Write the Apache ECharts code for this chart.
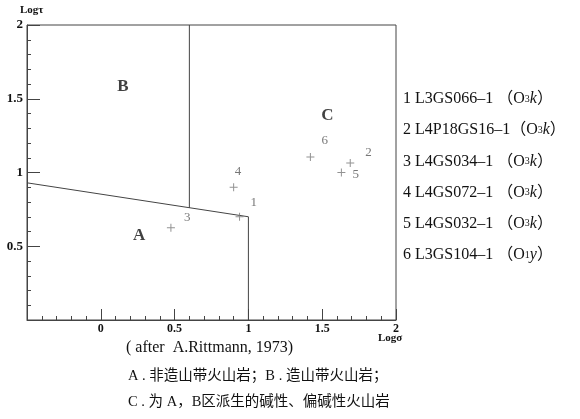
<!DOCTYPE html>
<html>
<head>
<meta charset="utf-8">
<script src="https://cdn.jsdelivr.net/npm/echarts@6/dist/echarts.min.js"></script>
<style>
  html, body { margin: 0; padding: 0; background: #fff; }
  #chart { width: 580px; height: 419px; }
</style>
</head>
<body>
<div id="chart"></div>
<script>
  // 样品点 (Logσ, Logτ)
  const sampleNo = ['1', '2', '3', '4', '5', '6'];
  const logSigma = [0.94, 1.69, 0.475, 0.90, 1.63, 1.42];
  const logTau = [0.70, 1.065, 0.625, 0.90, 1.0, 1.105];
  const sampleName = ['L3GS066–1', 'L4P18GS16–1', 'L4GS034–1', 'L4GS072–1', 'L4GS032–1', 'L3GS104–1'];
  const sampleAge = ['O3k', 'O3k', 'O3k', 'O3k', 'O3k', 'O1y'];

  // 分区界线
  const lineAB = [[-0.5, 0.93], [1, 0.70]];
  const lineBC = [[0.6, 0.76], [0.6, 2]];
  const lineAC = [[1, 0.70], [1, 0]];

  // 区号
  const zoneName = ['A', 'B', 'C'];
  const zoneX = [0.26, 0.15, 1.535];
  const zoneY = [0.575, 1.585, 1.385];

  const xTicks = ['', '0', '0.5', '1', '1.5', '2'];
  const yTicks = ['', '0.5', '1', '1.5', '2'];

  // 点号标注位置
  const labelPos = [[2, -14], [6, -10], [4, -10], [-8, -16], [2, 2], [2, -16]];

  const serif = '"Liberation Serif", "Noto Sans CJK SC", serif';
  const chart = echarts.init(document.getElementById('chart'));

  const lineStyle = { color: '#444', width: 1 };
  function boundary(d) {
    return {
      type: 'line', data: d, symbol: 'none', silent: true,
      lineStyle: lineStyle, z: 3
    };
  }

  const plus = 'path://M3.5,0H4.5V3.5H8V4.5H4.5V8H3.5V4.5H0V3.5H3.5Z';

  const legendTexts = sampleNo.map((n, i) => {
    const age = sampleAge[i];
    const sp = i === 1 ? '' : ' ';
    return {
      type: 'text', left: 403, top: 91 + i * 31.2,
      style: {
        text: n + ' ' + sampleName[i] + sp + '（{o|' + age[0] + '}{s|' + age[1] + '}{k|' + age[2] + '}）',
        font: '16px ' + serif, fill: '#111',
        rich: {
          o: { fontSize: 16, fontFamily: serif },
          s: { fontSize: 10, fontFamily: serif },
          k: { fontSize: 16, fontFamily: serif, fontStyle: 'italic' }
        }
      }
    };
  });

  chart.setOption({
    animation: false,
    grid: { left: 27, top: 25, width: 369, height: 295, show: true, borderColor: '#444', borderWidth: 1 },
    xAxis: {
      type: 'value', min: -0.5, max: 2, interval: 0.5,
      axisLine: { onZero: false, lineStyle: { color: '#444' } },
      axisTick: { inside: true, length: 11, lineStyle: { color: '#444' } },
      minorTick: { show: true, splitNumber: 5, length: 4, lineStyle: { color: '#444' } },
      splitLine: { show: false },
      axisLabel: {
        margin: 3, color: '#111', fontFamily: serif, fontWeight: 'bold', fontSize: 12,
        formatter: (v) => xTicks[Math.round((v + 0.5) / 0.5)]
      }
    },
    yAxis: {
      type: 'value', min: 0, max: 2, interval: 0.5,
      axisLine: { onZero: false, lineStyle: { color: '#444' } },
      axisTick: { inside: true, length: 13, lineStyle: { color: '#444' } },
      minorTick: { show: true, splitNumber: 5, length: 4, lineStyle: { color: '#444' } },
      splitLine: { show: false },
      axisLabel: {
        margin: 4, color: '#111', fontFamily: serif, fontWeight: 'bold', fontSize: 13,
        formatter: (v) => yTicks[Math.round(v / 0.5)]
      }
    },
    series: [
      boundary(lineAB),
      boundary(lineBC),
      boundary(lineAC),
      {
        type: 'scatter', symbol: plus, symbolSize: 8, z: 4,
        itemStyle: { color: '#777' },
        data: logSigma.map((x, i) => ({
          value: [x, logTau[i]],
          label: { offset: labelPos[i] }
        })),
        label: {
          show: true, position: 'right', color: '#555',
          fontFamily: serif, fontSize: 13,
          formatter: (p) => sampleNo[p.dataIndex]
        }
      },
      {
        type: 'scatter', symbolSize: 0, z: 5,
        data: zoneX.map((x, i) => [x, zoneY[i]]),
        label: {
          show: true, position: 'inside', color: '#111',
          fontFamily: serif, fontWeight: 'bold', fontSize: 17,
          formatter: (p) => zoneName[p.dataIndex]
        }
      }
    ],
    graphic: [
      { type: 'text', left: 20, top: 5, style: { text: 'Logτ', font: 'bold 11px ' + serif, fill: '#111' } },
      { type: 'text', left: 378, top: 333, style: { text: 'Logσ', font: 'bold 11px ' + serif, fill: '#111' } },
      { type: 'text', left: 126, top: 340, style: { text: '( after  A.Rittmann, 1973)', font: '16px ' + serif, fill: '#111' } },
      { type: 'text', left: 128, top: 369, style: { text: 'A . 非造山带火山岩；B . 造山带火山岩；', font: '14.5px ' + serif, fill: '#111' } },
      { type: 'text', left: 128, top: 395, style: { text: 'C . 为 A，B区派生的碱性、偏碱性火山岩', font: '14.5px ' + serif, fill: '#111' } }
    ].concat(legendTexts)
  });
</script>
</body>
</html>
